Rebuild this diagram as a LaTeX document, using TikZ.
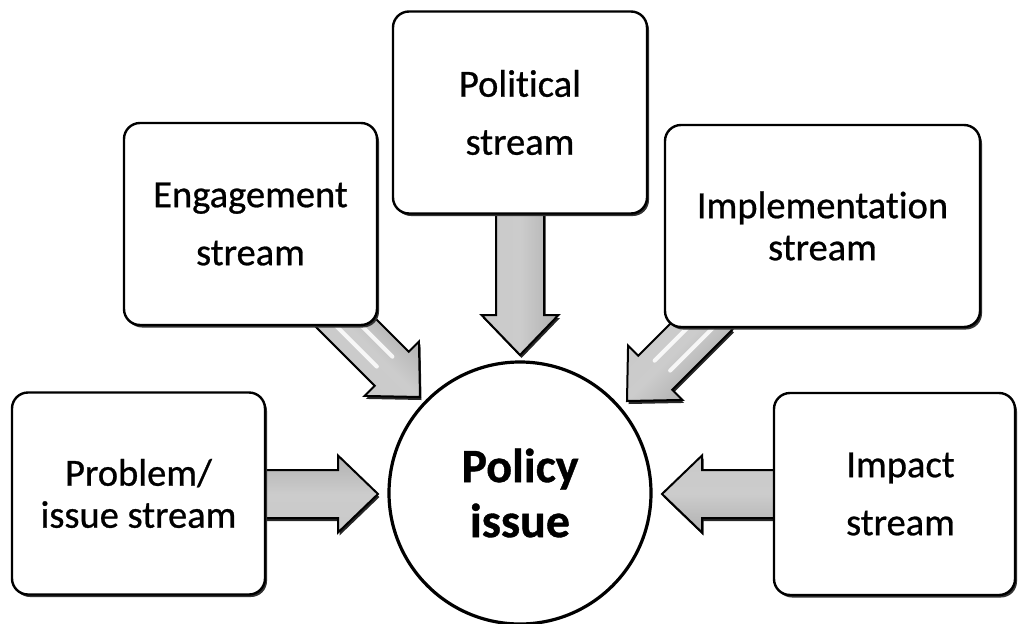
\documentclass[tikz,border=0pt]{standalone}
\usepackage{fontspec}
\setmainfont[RawFeature={-liga}]{Carlito}
\newfontfamily\boxfont[RawFeature={-liga}, FakeBold=0.7]{Carlito}
\newfontfamily\titlefont[RawFeature={-liga}, FakeBold=0.8]{Carlito Bold}
\usetikzlibrary{calc,shadows,backgrounds}
\newcommand\blockarr[4]{% tip, canvas angle, length, extra
  \begin{scope}[transform canvas={shift={($(#1)+(1.5,3)$)}, rotate=#2}]
    \fill[black!85] (0,0) -- (-40,-38.5) -- (-40,-24) -- (-#3,-24) -- (-#3,24) -- (-40,24) -- (-40,38.5) -- cycle;
  \end{scope}
  \begin{scope}[transform canvas={shift={(#1)}, rotate=#2}]
    \shade[arrowfill] (0,0) -- (-40,-38.5) -- (-40,-24) -- (-#3,-24) -- (-#3,24) -- (-40,24) -- (-40,38.5) -- cycle;
    #4
    \draw[arrowline] (0,0) -- (-40,-38.5) -- (-40,-24) -- (-#3,-24) -- (-#3,24) -- (-40,24) -- (-40,38.5) -- cycle;
  \end{scope}
}
\begin{document}
\begin{tikzpicture}[x=1pt,y=-1pt,
  box/.style={draw=black, line width=2.4pt, rounded corners=16pt, fill=white,
    minimum height=202pt, align=center, inner sep=0pt,
    drop shadow={shadow xshift=2pt, shadow yshift=-2.5pt, fill=black!80, opacity=1}},
  wide/.style={font=\boxfont\fontsize{38.5}{58}\selectfont},
  tight/.style={font=\boxfont\fontsize{38.5}{42}\selectfont},
  arrowfill/.style={top color=gray!62, bottom color=gray!42, middle color=gray!40},
  arrowline/.style={draw=black, line width=2pt, line join=miter},
  glint/.style={white, line width=4pt, opacity=.85, line cap=round}]
\useasboundingbox (0,0) rectangle (1018,624);

\node[circle, draw=black, line width=3.2pt, minimum size=262pt, align=center,
  font=\titlefont\fontsize{48}{55}\selectfont] (c) at (520,493) {Policy\\issue};

\node[box, tight, minimum width=253pt] (p1) at (138.5,493.5) {Problem/\\issue stream};
\node[box, wide, minimum width=253pt] (p2) at (250.5,224) {Engagement\\stream};
\node[box, wide, minimum width=254pt] (p3) at (520,112.5) {Political\\stream};
\node[box, tight, minimum width=315pt] (p4) at (822.5,226) {Implementation\\stream};
\node[box, wide, minimum width=241pt] (p5) at (894.5,494) {\hspace*{12pt}Impact\\\hspace*{12pt}stream};

\coordinate (t1) at ($(c.center)+(-142,1)$);
\coordinate (t5) at ($(c.center)+(142,1)$);
\coordinate (t3) at ($(c.center)+(0,-138)$);
\coordinate (t2) at ($(c.center)+(-100,-96)$);
\coordinate (t4) at ($(c.center)+(107,-92)$);

\begin{pgfonlayer}{background}
\blockarr{t1}{0}{128}{}
\blockarr{t5}{180}{128}{}
\blockarr{t3}{-90}{150}{}
\blockarr{t2}{-45}{125}{\draw[glint] (-120,-9) -- (-48,-9); \draw[glint] (-120,9) -- (-52,9);}
\blockarr{t4}{-135}{125}{\draw[glint] (-120,-9) -- (-52,-9); \draw[glint] (-120,9) -- (-48,9);}
\end{pgfonlayer}
\end{tikzpicture}
\end{document}
